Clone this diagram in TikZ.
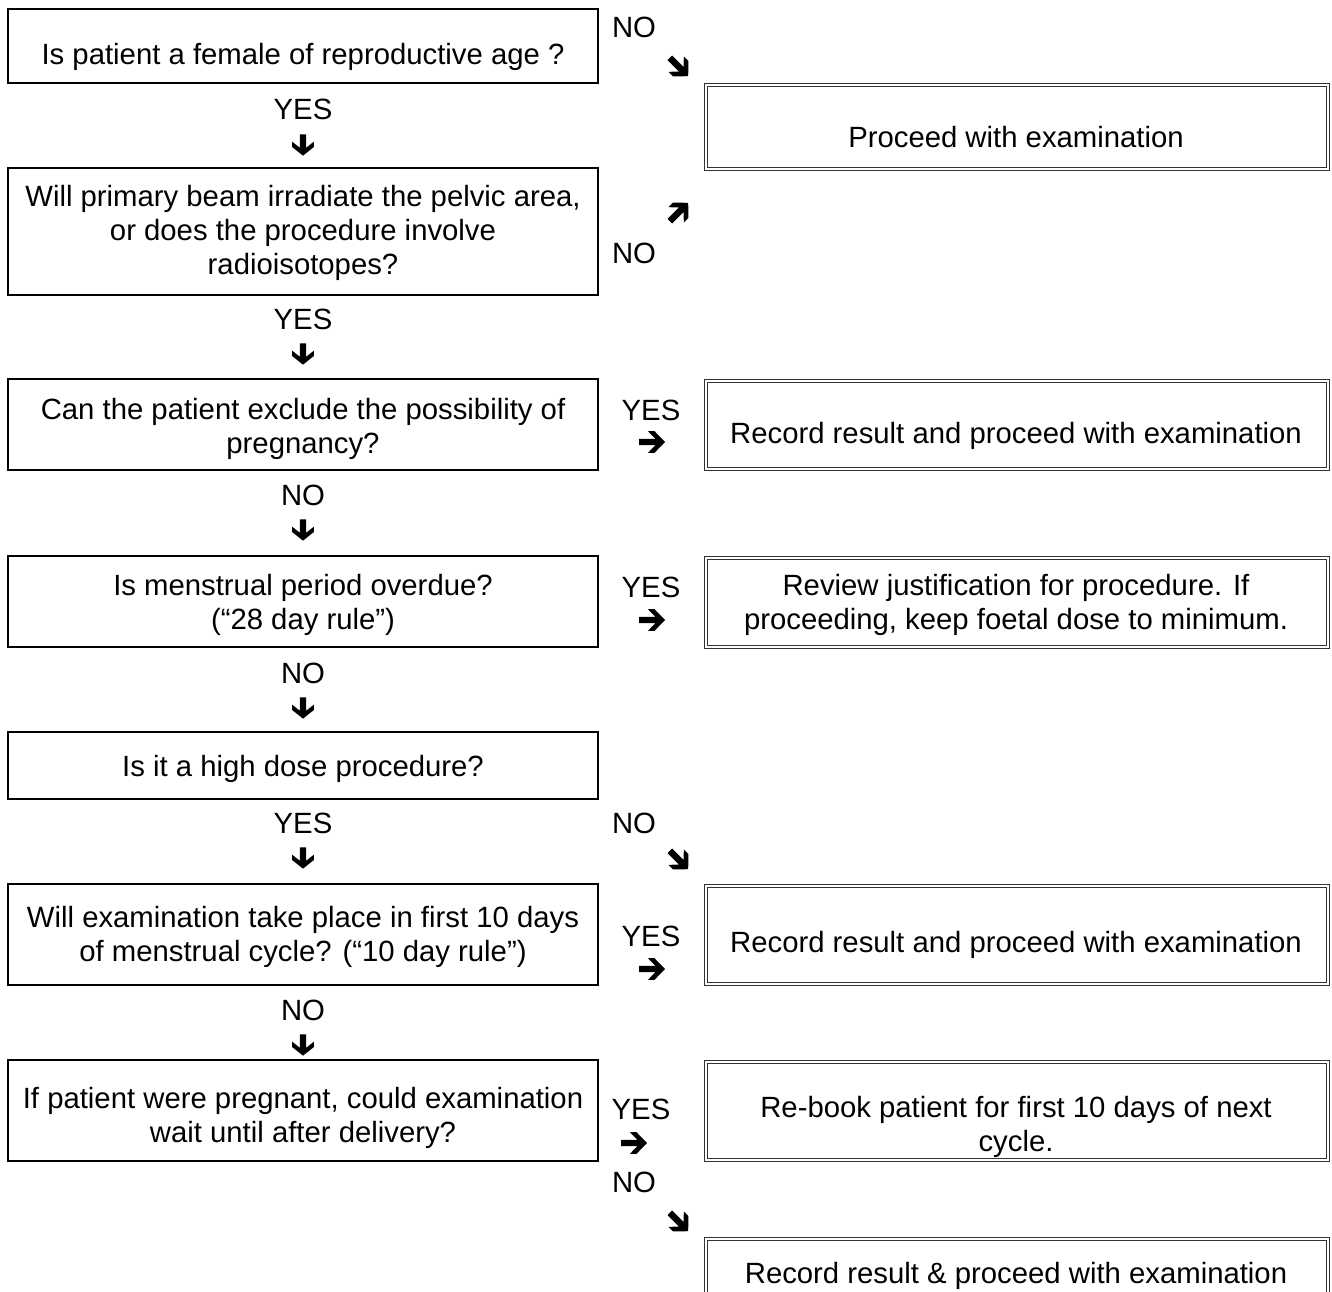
\documentclass[tikz,border=0pt]{standalone}
\usepackage{fontspec}
\setmainfont{Liberation Sans}
\begin{document}
\begin{tikzpicture}[x=1pt,y=-1pt,
  lbox/.style={draw=black, line width=2pt, minimum width=590pt, inner sep=0pt, outer sep=0pt},
  rbox/.style={draw=black!80, line width=1pt, double=white, double distance=2pt, minimum width=621.5pt, inner sep=0pt, outer sep=0pt},
  txt/.style={font=\fontsize{29.3}{33.8}\selectfont, align=center, inner sep=0pt},
  pics/harrow/.style={code={\fill (-13,3.2) -- (3.3,3.2) -- (-4,10.8) -- (2.5,10.8) -- (13,0) -- (2.5,-10.8) -- (-4,-10.8) -- (3.3,-3.2) -- (-13,-3.2) -- cycle;}},
  pics/varrow/.style={code={\fill[xscale=0.82] (-13,3.2) -- (3.3,3.2) -- (-4,10.8) -- (2.5,10.8) -- (13,0) -- (2.5,-10.8) -- (-4,-10.8) -- (3.3,-3.2) -- (-13,-3.2) -- cycle;}}
]
\useasboundingbox (0,0) rectangle (1332,1291);
\clip (0,0) rectangle (1332,1291);
\fill[white] (0,0) rectangle (1332,1291);

% left question boxes
\node[lbox, minimum height=73.5pt] (q1) at (303,46) {};
\node[txt] (q1t) at (303,57) {Is patient a female of reproductive age ?};
\node[lbox, minimum height=127pt] (q2) at (303,231.5) {};
\node[txt] (q2t) at (303,233) {Will primary beam irradiate the pelvic area,\\or does the procedure involve\\radioisotopes?};
\node[lbox, minimum height=91pt] (q3) at (303,424.5) {};
\node[txt] (q3t) at (303,429) {Can the patient exclude the possibility of\\pregnancy?};
\node[lbox, minimum height=91pt] (q4) at (303,601.5) {};
\node[txt] (q4t) at (303,605) {Is menstrual period overdue?\\(“28 day rule”)};
\node[lbox, minimum height=67pt] (q5) at (303,765.5) {};
\node[txt] (q5t) at (303,769) {Is it a high dose procedure?};
\node[lbox, minimum height=101pt] (q6) at (303,934.5) {};
\node[txt] (q6t) at (303,937) {Will examination take place in first 10 days\\of menstrual cycle? (“10 day rule”)};
\node[lbox, minimum height=101pt] (q7) at (303,1110.5) {};
\node[txt] (q7t) at (303,1118) {If patient were pregnant, could examination\\wait until after delivery?};

% right result boxes
\node[rbox, minimum height=84pt] (r1) at (1016.75,127) {};
\node[txt] (r1t) at (1016,137) {Proceed with examination};
\node[rbox, minimum height=88pt] (r2) at (1016.75,424.5) {};
\node[txt] (r2t) at (1016,436) {Record result and proceed with examination};
\node[rbox, minimum height=89pt] (r3) at (1016.75,602) {};
\node[txt] (r3t) at (1016,605) {Review justification for procedure. If\\proceeding, keep foetal dose to minimum.};
\node[rbox, minimum height=98pt] (r4) at (1016.75,934.5) {};
\node[txt] (r4t) at (1016,945) {Record result and proceed with examination};
\node[rbox, minimum height=98pt] (r5) at (1016.75,1110.5) {};
\node[txt] (r5t) at (1016,1127) {Re-book patient for first 10 days of next\\cycle.};
\node[rbox, minimum height=100pt] (r6) at (1016.75,1288.5) {};
\node[txt] (r6t) at (1016,1276) {Record result \& proceed with examination};

% vertical labels and arrows
\node[txt] (l1) at (303,109) {YES};
\pic[rotate=-90] at (303,145) {varrow};
\node[txt] (l2) at (303,319) {YES};
\pic[rotate=-90] at (303,354) {varrow};
\node[txt] (l3) at (303,495) {NO};
\pic[rotate=-90] at (303,530) {varrow};
\node[txt] (l4) at (303,673) {NO};
\pic[rotate=-90] at (303,708) {varrow};
\node[txt] (l5) at (303,823) {YES};
\pic[rotate=-90] at (303,858) {varrow};
\node[txt] (l6) at (303,1010) {NO};
\pic[rotate=-90] at (303,1045) {varrow};

% side labels and arrows
\node[txt] (s1) at (634,27) {NO};
\pic[rotate=-45] at (679,67) {harrow};
\pic[rotate=45] at (679,212) {harrow};
\node[txt] (s2) at (634,253) {NO};
\node[txt] (s3) at (651,410) {YES};
\pic at (652,442) {harrow};
\node[txt] (s4) at (651,587) {YES};
\pic at (652,620) {harrow};
\node[txt] (s5) at (634,823) {NO};
\pic[rotate=-45] at (679,860) {harrow};
\node[txt] (s6) at (651,936) {YES};
\pic at (652,969) {harrow};
\node[txt] (s7) at (641,1109) {YES};
\pic at (634,1143) {harrow};
\node[txt] (s8) at (634,1182) {NO};
\pic[rotate=-45] at (679,1222) {harrow};
\end{tikzpicture}
\end{document}
